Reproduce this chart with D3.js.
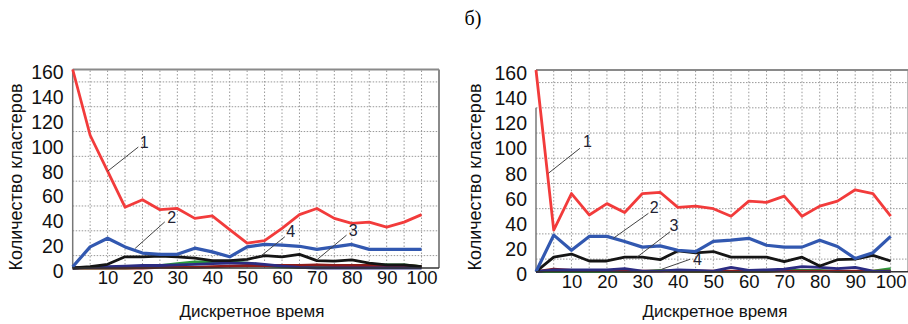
<!DOCTYPE html>
<html>
<head>
<meta charset="utf-8">
<script src="https://cdn.jsdelivr.net/npm/d3@7"></script>
<style>
  body { margin: 0; background: #fff; }
  svg { display: block; }
  .tick text { font-family: "Liberation Sans Narrow", "Liberation Sans", Arial, sans-serif; fill: #111; }
</style>
</head>
<body>
<svg id="chart" width="908" height="324"></svg>
<script>
// discrete time steps (x axis)
var steps = [0,5,10,15,20,25,30,35,40,45,50,55,60,65,70,75,80,85,90,95,100];
var yTicks = [0,20,40,60,80,100,120,140,160];
var xTicks = [10,20,30,40,50,60,70,80,90,100];

// left chart series
var leftRed     = [160,107,78,49,55,47,48,40,42,31,20,22,32,43,48,40,36,37,33,37,43];
var leftBlue    = [1,17,24,17,12,11,11,16,13,9,17,19,18.5,17.5,15,17,19,15,15,15,15];
var leftBlack   = [0,1,3,9,9,9.5,9,8,6,6,7,10,9,11,6,5.5,6.5,4,2.5,2.5,1];
var leftGreen   = [0,0,0,0,0.5,2,3.5,5,5,5,4,2,1,0.5,0.5,1,2,2,2.5,2.5,1];
var leftNavy    = [0,0.5,1,1.5,2,2,2.5,3,3.5,4,4,3,1.5,0.5,0,0,0,0,0,0,0];
var leftDarkRed = [0,0,0,0,0,0.5,0.5,0.5,1,1.5,2,2,2,2,2.5,2,2,2,2,2,1];

// right chart series
var rightRed     = [160,33,62,45,54,47,62,63,51,52,50,44,56,55,60,44,52,56,65,62,44];
var rightBlue    = [0,29,17,28,28,24,19.5,20.5,17,16,24,25,26.5,21,19.5,19.5,25,20,10.5,15,28];
var rightBlack   = [0,11.5,14,8.5,8.5,11.5,11.5,9.5,16.5,15,16,11.5,11.5,11.5,8,11.5,4.5,9.5,10,13,8.5];
var rightGreen   = [0,0,0,0,0,0,0,1,0,0,0,0,0,0,1,1,1,0,0,0.5,2.5];
var rightNavy    = [0,1.5,1.5,1.5,1.5,2.5,0.5,0.5,1.5,1,0.5,3.5,1,1.5,2,4,3.5,2.5,3.5,0.5,0];
var rightDarkRed = [0,2,1,1,1,0.5,0.5,0.5,0.5,0.5,0.5,0.5,0.5,0.5,0.5,0.5,0.5,0.5,0.5,0.5,0.5];

// callouts: [label, fromX, fromY, toX, toY, labelX, labelY] in data units
var leftNotes = [
	["1", 10, 78, 18.8, 97.5, 20.5, 101.5],
	["2", 17.9, 15.8, 26.4, 37.2, 28.4, 40.4],
	["4", 53.7, 9.1, 60.8, 25.2, 62.5, 29.7],
	["3", 69.9, 6.4, 78.5, 26.5, 80.4, 30.5]
];
var rightNotes = [
	["1", 3.5, 78.1, 12.4, 97.9, 14.5, 103.2],
	["2", 21.8, 26.5, 31.7, 46.3, 33.3, 51.1],
	["3", 28.4, 11.4, 37.8, 31.7, 38.9, 36.3],
	["4", 35.4, 1.9, 43.4, 9.8, 45.5, 9.8]
];

var colors = {red: "#f23b3b", blue: "#3258b0", black: "#151515", green: "#2b9a3c", navy: "#2c2c82", darkRed: "#8e1b1b"};

var svg = d3.select("#chart");

svg.append("text")
	.attr("x", 473)
	.attr("y", 25)
	.attr("text-anchor", "middle")
	.style("font-family", "'Liberation Serif', 'DejaVu Serif', serif")
	.style("font-size", "20px")
	.text("б)");

function drawChart(opt){
	var g = svg.append("g");
	var x = d3.scaleLinear().domain([0, 105]).range([opt.left, opt.right]);
	var y = d3.scaleLinear().domain([0, 160]).range([opt.bottom, opt.top]);

	//dotted grid
	g.selectAll(".hgrid")
		.data(d3.range(10, 160, 20))
		.enter()
		.append("line")
		.attr("x1", x(0)).attr("x2", x(105))
		.attr("y1", function(d){ return y(d); })
		.attr("y2", function(d){ return y(d); })
		.attr("stroke", "#999")
		.attr("stroke-width", 1)
		.attr("stroke-dasharray", "1.5,1.5");

	g.selectAll(".vgrid")
		.data(d3.range(5, 105, 5))
		.enter()
		.append("line")
		.attr("y1", y(0)).attr("y2", y(160))
		.attr("x1", function(d){ return x(d); })
		.attr("x2", function(d){ return x(d); })
		.attr("stroke", "#999")
		.attr("stroke-width", 1)
		.attr("stroke-dasharray", "1.5,2");

	//frame: top and right gray, left axis, bottom axis
	g.append("line")
		.attr("x1", x(0)).attr("x2", x(105))
		.attr("y1", y(160)).attr("y2", y(160))
		.attr("stroke", "#8a8a8a").attr("stroke-width", 2);
	g.append("line")
		.attr("x1", x(105)).attr("x2", x(105))
		.attr("y1", y(160)).attr("y2", y(0))
		.attr("stroke", "#8a8a8a").attr("stroke-width", 2);
	g.append("line")
		.attr("x1", x(0)).attr("x2", x(0))
		.attr("y1", y(opt.leftAxisTop)).attr("y2", y(0))
		.attr("stroke", "#777").attr("stroke-width", 1.5);

	//series
	var line = d3.line()
		.x(function(d, i){ return x(steps[i]); })
		.y(function(d){ return y(d); });

	opt.series.forEach(function(s){
		g.append("path")
			.datum(s.values)
			.attr("d", line)
			.attr("fill", "none")
			.attr("stroke", s.color)
			.attr("stroke-width", s.width)
			.attr("stroke-linejoin", "round");
	});

	g.append("line")
		.attr("x1", x(0)).attr("x2", x(105))
		.attr("y1", y(0)).attr("y2", y(0))
		.attr("stroke", "#333").attr("stroke-width", 1.5);

	//axes (labels only)
	g.append("g")
		.attr("transform", "translate(" + x(0) + ",3)")
		.call(d3.axisLeft(y).tickValues(yTicks).tickSize(0).tickPadding(9))
		.call(function(a){ a.select(".domain").remove(); })
		.selectAll("text").style("font-size", "19.5px");

	g.append("g")
		.attr("transform", "translate(0," + (y(0) + opt.xLabelShift) + ")")
		.call(d3.axisBottom(x).tickValues(xTicks).tickSize(0).tickPadding(0))
		.call(function(a){ a.select(".domain").remove(); })
		.selectAll("text").style("font-size", "18.5px");

	//callouts
	opt.notes.forEach(function(n){
		g.append("line")
			.attr("x1", x(n[1])).attr("y1", y(n[2]))
			.attr("x2", x(n[3])).attr("y2", y(n[4]))
			.attr("stroke", "#444").attr("stroke-width", 1);
		g.append("text")
			.attr("x", x(n[5])).attr("y", y(n[6]))
			.attr("text-anchor", "middle")
			.attr("dominant-baseline", "central")
			.style("font-family", "'Liberation Sans', Arial, sans-serif")
			.style("font-size", "16px")
			.style("fill", "#223")
			.text(n[0]);
	});

	//titles
	g.append("text")
		.attr("x", opt.xTitleX)
		.attr("y", 317)
		.attr("text-anchor", "middle")
		.style("font-family", "'Liberation Sans', Arial, sans-serif")
		.style("font-size", "17px")
		.style("fill", "#111")
		.text("Дискретное время");

	g.append("text")
		.attr("transform", "translate(" + opt.yTitleX + ",177) rotate(-90)")
		.attr("text-anchor", "middle")
		.attr("dominant-baseline", "central")
		.style("font-family", "'Liberation Sans', Arial, sans-serif")
		.style("font-size", "18px")
		.style("fill", "#111")
		.text("Количество кластеров");
}

drawChart({
	left: 72.7, right: 439, top: 69.5, bottom: 268,
	leftAxisTop: 160, xLabelShift: 3,
	xTitleX: 252, yTitleX: 16,
	notes: leftNotes,
	series: [
		{values: leftGreen, color: colors.green, width: 2.8},
		{values: leftDarkRed, color: colors.darkRed, width: 2.8},
		{values: leftNavy, color: colors.navy, width: 2.8},
		{values: leftBlack, color: colors.black, width: 2.8},
		{values: leftBlue, color: colors.blue, width: 3.2},
		{values: leftRed, color: colors.red, width: 2.8}
	]
});

drawChart({
	left: 536, right: 908.4, top: 70, bottom: 271.7,
	leftAxisTop: 130, xLabelShift: 3,
	xTitleX: 715, yTitleX: 475,
	notes: rightNotes,
	series: [
		{values: rightGreen, color: colors.green, width: 2.8},
		{values: rightDarkRed, color: colors.darkRed, width: 2.8},
		{values: rightNavy, color: colors.navy, width: 2.8},
		{values: rightBlack, color: colors.black, width: 2.8},
		{values: rightBlue, color: colors.blue, width: 3.2},
		{values: rightRed, color: colors.red, width: 2.8}
	]
});
</script>
</body>
</html>
